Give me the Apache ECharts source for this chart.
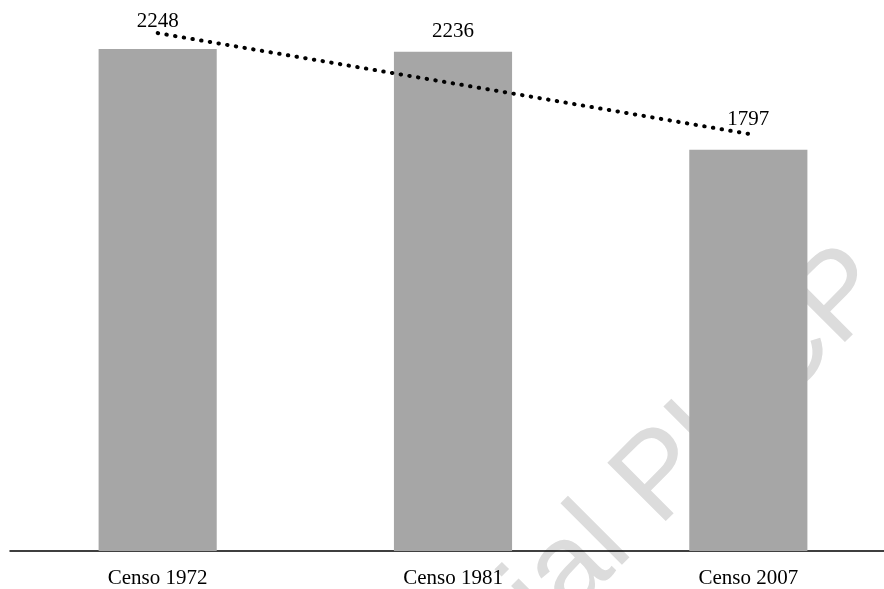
<!DOCTYPE html>
<html>
<head>
<meta charset="utf-8">
<style>
  html, body { margin: 0; padding: 0; background: #ffffff; overflow: hidden; }
  #chart { width: 900px; height: 589px; }
</style>
<script src="https://cdn.jsdelivr.net/npm/echarts@6/dist/echarts.min.js"></script>
</head>
<body>
<div id="chart"></div>
<script>
// Census categories and population counts
const categories = ['Censo 1972', 'Censo 1981', 'Censo 2007'];
const populationValues = [2248, 2236, 1797];
// Linear trend across the three censuses
const trendValues = [2319, 2094, 1868];
// Vertical nudges for each value label (px)
const labelOffsets = [-17, -10, -20];

const serif = '"Liberation Serif", "Times New Roman", serif';

const chart = echarts.init(document.getElementById('chart'), null, { renderer: 'canvas' });

chart.setOption({
  animation: false,
  backgroundColor: '#ffffff',
  grid: { left: 10, right: 4, top: 15, bottom: 38, containLabel: false },
  graphic: [{
    type: 'text',
    x: 310,
    y: 830,
    rotation: Math.PI / 4,
    z: -10,
    silent: true,
    style: {
      text: 'Material PUCP',
      fontFamily: '"Liberation Sans", Arial, sans-serif',
      fontSize: 120,
      fill: '#dcdcdc',
      align: 'left',
      verticalAlign: 'middle'
    }
  }],
  xAxis: {
    type: 'category',
    data: categories,
    boundaryGap: true,
    axisLine: { show: true, lineStyle: { color: '#000000', width: 1.5 } },
    axisTick: { show: false },
    axisLabel: { color: '#000000', fontFamily: serif, fontSize: 21, margin: 17 },
    splitLine: { show: false }
  },
  yAxis: {
    type: 'value',
    min: 0,
    max: 2400,
    show: false,
    splitLine: { show: false }
  },
  series: [
    {
      name: 'Población',
      type: 'bar',
      barWidth: '40%',
      z: 2,
      itemStyle: { color: '#a6a6a6' },
      data: populationValues.map((v, i) => ({
        value: v,
        label: { offset: [0, labelOffsets[i]] }
      })),
      label: {
        show: true,
        position: 'top',
        distance: 0,
        color: '#000000',
        fontFamily: serif,
        fontSize: 21
      }
    },
    {
      name: 'Tendencia',
      type: 'line',
      z: 5,
      data: trendValues,
      symbol: 'none',
      smooth: false,
      lineStyle: {
        color: '#000000',
        width: 4,
        type: [0.5, 8.3],
        cap: 'round'
      }
    }
  ]
});
</script>
</body>
</html>
